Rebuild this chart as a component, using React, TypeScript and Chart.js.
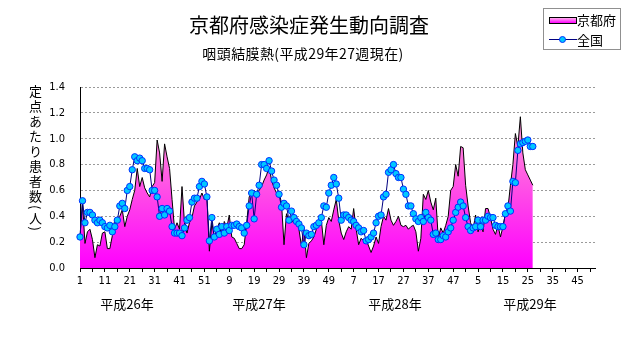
import React, { useEffect, useRef } from "react";
import { Chart, registerables } from "chart.js";

Chart.register(...registerables);

// ---- data ----
const yearWeeks = [52, 52, 52, 52];
const yearLabels = ["平成26年", "平成27年", "平成28年", "平成29年"];
const seriesNames = ["京都府", "全国"];

// 京都府 (weekly, from 平成26年 week 1 to 平成29年 week 27)
const kyotoValues = [
  0.25, 0.50, 0.19, 0.28, 0.30, 0.22, 0.08, 0.18, 0.17, 0.27,
  0.28, 0.15, 0.15, 0.25, 0.38, 0.37, 0.40, 0.45, 0.32, 0.40,
  0.45, 0.53, 0.60, 0.77, 0.63, 0.70, 0.62, 0.58, 0.55, 0.63,
  0.66, 0.99, 0.89, 0.67, 0.96, 0.86, 0.77, 0.53, 0.30, 0.35,
  0.30, 0.63, 0.35, 0.27, 0.35, 0.39, 0.48, 0.51, 0.53, 0.58,
  0.53, 0.55, 0.13, 0.35, 0.24, 0.30, 0.35, 0.27, 0.36, 0.31,
  0.41, 0.24, 0.23, 0.19, 0.15, 0.15, 0.18, 0.35, 0.55, 0.58,
  0.60, 0.56, 0.60, 0.63, 0.68, 0.72, 0.78, 0.68, 0.62, 0.58,
  0.59, 0.50, 0.18, 0.42, 0.37, 0.35, 0.37, 0.40, 0.30, 0.17,
  0.31, 0.08, 0.19, 0.21, 0.24, 0.30, 0.35, 0.37, 0.18, 0.33,
  0.39, 0.36, 0.45, 0.53, 0.37, 0.27, 0.22, 0.28, 0.32, 0.30,
  0.46, 0.30, 0.18, 0.23, 0.21, 0.22, 0.17, 0.12, 0.17, 0.24,
  0.19, 0.32, 0.40, 0.37, 0.46, 0.37, 0.33, 0.36, 0.40, 0.33,
  0.32, 0.33, 0.30, 0.32, 0.33, 0.28, 0.13, 0.23, 0.57, 0.53,
  0.60, 0.51, 0.45, 0.54, 0.23, 0.31, 0.27, 0.33, 0.40, 0.60,
  0.63, 0.80, 0.71, 0.94, 0.93, 0.64, 0.48, 0.35, 0.30, 0.41,
  0.28, 0.35, 0.28, 0.46, 0.46, 0.39, 0.30, 0.26, 0.33, 0.24,
  0.32, 0.42, 0.46, 0.64, 0.80, 1.04, 0.94, 1.17, 0.89, 0.76,
  0.72, 0.68, 0.64,
];

// 全国
const nationalValues = [
  0.24, 0.52, 0.35, 0.43, 0.43, 0.41, 0.37, 0.35, 0.37, 0.35,
  0.32, 0.31, 0.33, 0.28, 0.32, 0.37, 0.48, 0.50, 0.46, 0.60,
  0.63, 0.76, 0.86, 0.83, 0.85, 0.83, 0.77, 0.77, 0.76, 0.60,
  0.60, 0.55, 0.40, 0.46, 0.41, 0.46, 0.44, 0.32, 0.27, 0.27,
  0.27, 0.25, 0.31, 0.37, 0.39, 0.51, 0.54, 0.54, 0.63, 0.67,
  0.65, 0.55, 0.21, 0.39, 0.24, 0.30, 0.26, 0.32, 0.27, 0.32,
  0.29, 0.33, 0.33, 0.34, 0.32, 0.31, 0.27, 0.33, 0.48, 0.58,
  0.38, 0.57, 0.64, 0.80, 0.80, 0.77, 0.83, 0.75, 0.68, 0.64,
  0.57, 0.47, 0.50, 0.48, 0.37, 0.44, 0.39, 0.36, 0.34, 0.31,
  0.18, 0.27, 0.25, 0.26, 0.32, 0.33, 0.35, 0.39, 0.48, 0.47,
  0.58, 0.64, 0.70, 0.65, 0.54, 0.37, 0.41, 0.41, 0.39, 0.37,
  0.36, 0.33, 0.31, 0.28, 0.29, 0.21, 0.22, 0.24, 0.27, 0.35,
  0.40, 0.41, 0.55, 0.57, 0.74, 0.76, 0.80, 0.73, 0.70, 0.70,
  0.61, 0.57, 0.48, 0.48, 0.42, 0.38, 0.36, 0.39, 0.36, 0.43,
  0.39, 0.37, 0.26, 0.27, 0.22, 0.22, 0.25, 0.24, 0.28, 0.31,
  0.37, 0.43, 0.47, 0.51, 0.48, 0.39, 0.32, 0.29, 0.31, 0.32,
  0.37, 0.32, 0.37, 0.37, 0.40, 0.39, 0.39, 0.33, 0.32, 0.32,
  0.32, 0.42, 0.48, 0.44, 0.67, 0.66, 0.91, 0.96, 0.97, 0.98,
  0.99, 0.94, 0.94,
];

const yMin = 0;
const yMax = 1.4;
const yStep = 0.2;

// category labels: week numbers of each year
const categories: string[] = yearWeeks.flatMap((n) =>
  Array.from({ length: n }, (_, k) => String(k + 1))
);
const padSeries = (arr: number[]) =>
  categories.map((_, i) => (i < arr.length ? arr[i] : null));

const JP = '"Noto Sans CJK JP", "Noto Sans", sans-serif';
const NUM = '"Liberation Sans Narrow", "DejaVu Sans Condensed", "Noto Sans CJK JP", sans-serif';

export default function App() {
  const canvasRef = useRef<HTMLCanvasElement | null>(null);

  useEffect(() => {
    const canvas = canvasRef.current;
    if (!canvas) return;
    const chart = new Chart(canvas, {
      type: "line",
      data: {
        labels: categories,
        datasets: [
          {
            label: seriesNames[1],
            data: padSeries(nationalValues),
            order: 0,
            borderColor: "#000080",
            borderWidth: 1,
            pointRadius: 3.2,
            pointBackgroundColor: "#00c8ff",
            pointBorderColor: "#0030ff",
            pointBorderWidth: 1,
            fill: false,
            tension: 0,
          },
          {
            label: seriesNames[0],
            data: padSeries(kyotoValues),
            order: 1,
            borderColor: "#000000",
            borderWidth: 1,
            pointRadius: 0,
            tension: 0,
            fill: "origin",
            backgroundColor: (ctx: any) => {
              const area = ctx.chart.chartArea;
              if (!area) return "#ff66ee";
              const g = ctx.chart.ctx.createLinearGradient(0, area.top, 0, area.bottom);
              g.addColorStop(0, "#ffb8e6");
              g.addColorStop(0.25, "#ff8ada");
              g.addColorStop(0.6, "#ff48e8");
              g.addColorStop(1, "#ff00ff");
              return g;
            },
          },
        ],
      },
      options: {
        animation: false,
        responsive: false,
        devicePixelRatio: 1,
        layout: { padding: { top: 87, right: 36, left: 0, bottom: 0 } },
        plugins: {
          legend: { display: false },
          tooltip: { enabled: false },
        },
        scales: {
          x: {
            type: "category",
            offset: false,
            grid: {
              drawOnChartArea: false,
              drawTicks: true,
              tickLength: 4,
              color: (c: any) => (c.index % 5 === 0 ? "#000000" : "rgba(0,0,0,0)"),
            },
            border: { color: "#000000", width: 1 },
            ticks: {
              autoSkip: false,
              maxRotation: 0,
              minRotation: 0,
              padding: 3,
              color: "#000000",
              font: { size: 11, family: NUM },
              callback: (_v: any, i: number) => (i % 10 === 0 ? categories[i] : ""),
            },
            afterFit: (s: any) => {
              s.height = 79;
            },
          },
          y: {
            min: yMin,
            max: yMax,
            ticks: {
              stepSize: yStep,
              padding: 15,
              color: "#000000",
              font: { size: 11, family: NUM },
              callback: (v: any) => Number(v).toFixed(1),
            },
            grid: {
              drawTicks: false,
              color: (c: any) =>
                c.tick && Math.abs(c.tick.value) < 1e-9 ? "rgba(0,0,0,0)" : "#9a9a9a",
              lineWidth: 1,
            },
            border: { color: "#000000", width: 1, dash: [2, 2] },
            afterFit: (s: any) => {
              s.width = 80;
            },
          },
        },
      },
    });
    return () => chart.destroy();
  }, []);

  const yearCenters = [127, 259, 395, 530];

  return (
    <div
      style={{
        position: "absolute",
        left: 0,
        top: 0,
        width: 631,
        height: 347,
        background: "#ffffff",
        fontFamily: JP,
        color: "#000",
      }}
    >
      <canvas ref={canvasRef} width={631} height={347} style={{ position: "absolute", left: 0, top: 0 }} />
      <div
        style={{
          position: "absolute",
          left: 0,
          width: 618,
          top: 12,
          textAlign: "center",
          fontSize: 20,
          lineHeight: "26px",
        }}
      >
        京都府感染症発生動向調査
      </div>
      <div
        style={{
          position: "absolute",
          left: 0,
          width: 606,
          top: 43,
          textAlign: "center",
          fontSize: 14,
          lineHeight: "20px",
          letterSpacing: 0.4,
        }}
      >
        咽頭結膜熱(平成29年27週現在)
      </div>
      <div
        style={{
          position: "absolute",
          left: 27,
          top: 85,
          writingMode: "vertical-rl",
          fontSize: 13,
          lineHeight: "16px",
          letterSpacing: 2,
        }}
      >
        定点あたり患者数(人)
      </div>
      {yearLabels.map((t, i) => (
        <div
          key={t}
          style={{
            position: "absolute",
            left: yearCenters[i] - 40,
            width: 80,
            top: 295,
            textAlign: "center",
            fontSize: 13,
            lineHeight: "18px",
          }}
        >
          {t}
        </div>
      ))}
      <div
        style={{
          position: "absolute",
          left: 543,
          top: 8,
          width: 78,
          height: 42,
          border: "1px solid #909090",
          boxSizing: "border-box",
          background: "#fff",
        }}
      >
        <div style={{ position: "absolute", left: 5, top: 8, width: 26, height: 5, border: "1px solid #000", background: "linear-gradient(#ffb0ec, #ff00ff)" }} />
        <div style={{ position: "absolute", left: 33, top: 2, fontSize: 13, lineHeight: "17px" }}>{seriesNames[0]}</div>
        <div style={{ position: "absolute", left: 5, top: 30, width: 28, height: 1, background: "#000080" }} />
        <div style={{ position: "absolute", left: 15, top: 27, width: 5, height: 5, borderRadius: "50%", background: "#00c8ff", border: "1px solid #0030ff" }} />
        <div style={{ position: "absolute", left: 33, top: 22, fontSize: 13, lineHeight: "17px" }}>{seriesNames[1]}</div>
      </div>
    </div>
  );
}
